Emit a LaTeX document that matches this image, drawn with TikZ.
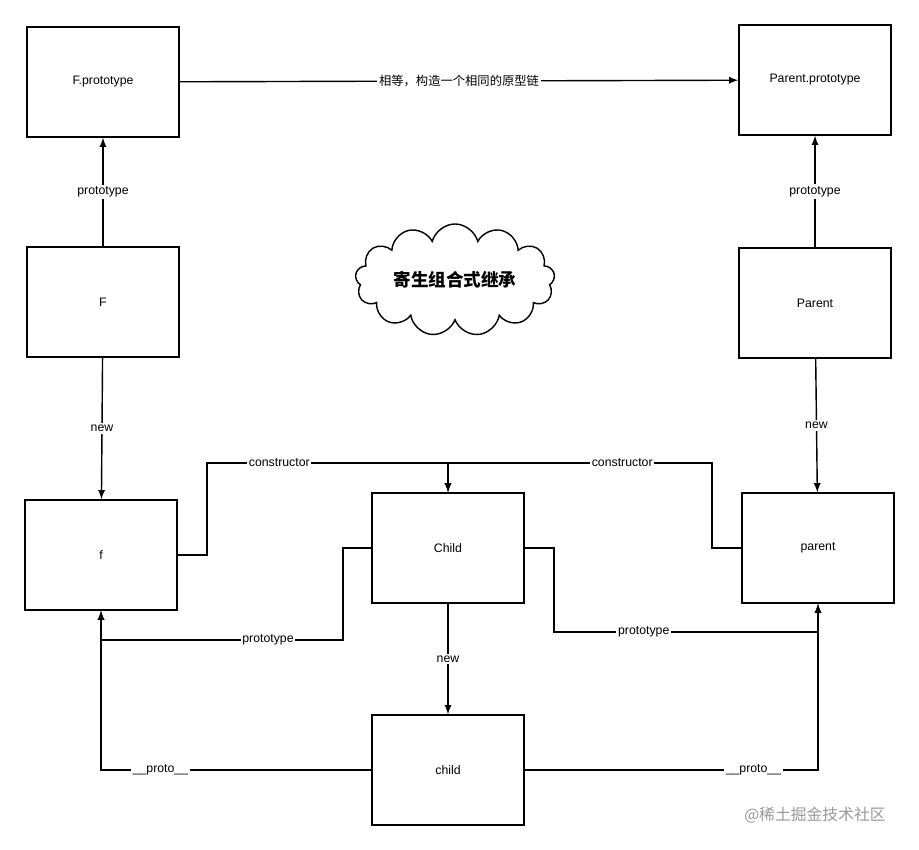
\documentclass[tikz,border=0pt]{standalone}
\usepackage{fontspec}
\setmainfont{Liberation Sans}
\newfontfamily\cjk{Noto Sans CJK SC}
\usetikzlibrary{arrows,shapes.symbols}

\tikzset{
	obj/.style={rectangle,draw,thick,minimum width=3.04cm,minimum height=2.2cm,font=\fontsize{7}{8}\selectfont},
	lbl/.style={fill=white,inner sep=1pt,font=\fontsize{7}{8}\selectfont},
	link/.style={thick,-latex}
}

\begin{document}
\begin{tikzpicture}[x=0.02cm,y=-0.02cm]
		\useasboundingbox (0,0) rectangle (919,849);

		\node[obj] (fproto) at (103,82) {F.prototype};
		\node[obj] (pproto) at (815,80) {Parent.prototype};
		\node[obj] (F) at (103,302) {F};
		\node[obj] (Parent) at (815,303) {Parent};
		\node[obj] (f) at (101,555) {f};
		\node[obj] (Child) at (448,548) {Child};
		\node[obj] (parent) at (818,548) {parent};
		\node[obj] (child) at (448,770) {child};

		\node[cloud,draw,thick,cloud puffs=13,aspect=2.4,minimum width=3.9cm,minimum height=1.7cm,
			font=\cjk\fontsize{10}{12}\selectfont\bfseries] (title) at (455,280) {寄生组合式继承};

		\coordinate (fR) at (207,555);
		\coordinate (top) at (448,463);
		\coordinate (pL) at (712,548);
		\coordinate (cL) at (343,548);
		\coordinate (cR) at (554,548);

%		upper part
		\draw[link] (fproto) -- node[lbl] {\cjk 相等，构造一个相同的原型链} (pproto);
		\draw[link] (F) -- node[lbl] {prototype} (fproto);
		\draw[link] (Parent) -- node[lbl] {prototype} (pproto);
		\draw[link] (F) -- node[lbl] {new} (f);
		\draw[link] (Parent) -- node[lbl] {new} (parent);

%		constructor
		\draw[link] (f.east) -- (fR) |- node[lbl,pos=0.65] {constructor} (top) -- (Child);
		\draw[link] (parent.west) -- (pL) |- node[lbl,pos=0.67] {constructor} (top) -- (Child);

%		prototype and __proto__
		\draw[link] (Child.west) -- (cL) |- node[lbl,pos=0.655] {prototype} (f.south|-0,640) -- (f);
		\draw[link] (Child.east) -- (cR) |- node[lbl,pos=0.67] {prototype} (parent.south|-0,632) -- (parent);
		\draw[link] (Child) -- node[lbl] {new} (child);
		\draw[link] (child.west) -| node[lbl,pos=0.39] {\_\_proto\_\_} (f);
		\draw[link] (child.east) -| node[lbl,pos=0.39] {\_\_proto\_\_} (parent);

		\node[text=black!40,font=\cjk\fontsize{9}{10}\selectfont] (mark) at (815,815) {@稀土掘金技术社区};
	\end{tikzpicture}
\end{document}
